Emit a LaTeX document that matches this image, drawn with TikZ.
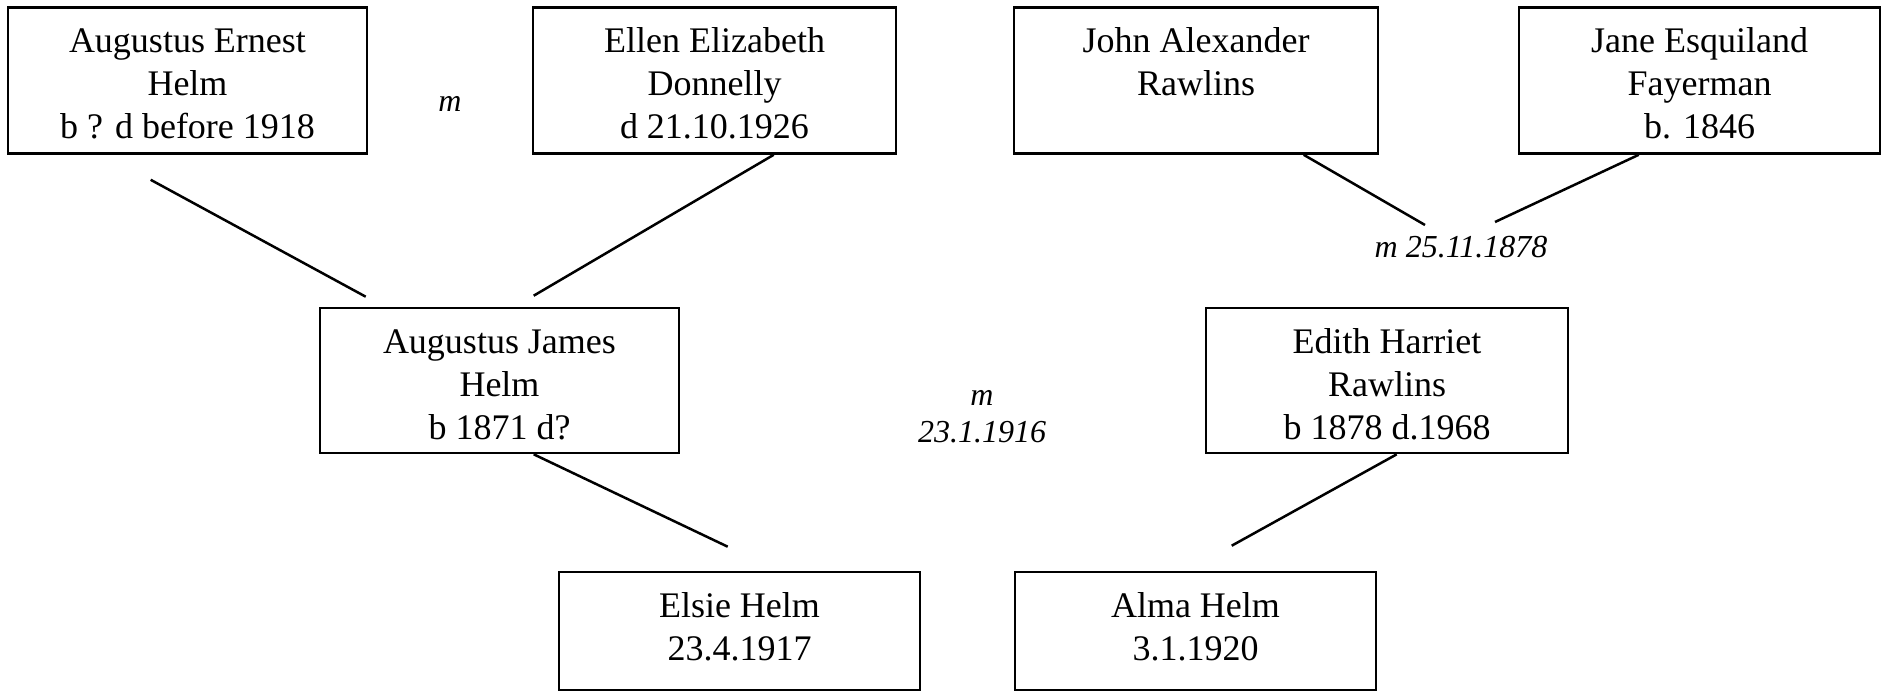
\documentclass[tikz,border=0pt]{standalone}
\usepackage{fontspec}
\setmainfont{Liberation Serif}
\usetikzlibrary{calc}
\newcommand\personbox[3]{\parbox[c][#2][t]{#1}{\centering\fontsize{36}{43}\selectfont\vspace*{15pt}\strut #3\par}}
\begin{document}
\begin{tikzpicture}[x=1pt,y=-1pt,
  person/.style={draw, line width=2.6pt, inner sep=0pt},
  conn/.style={line width=2.5pt},
  lbl/.style={font=\fontsize{32}{37}\selectfont\itshape, inner sep=0pt, align=center}]
\useasboundingbox[fill=white] (0,0) rectangle (1881,692);
% top row
\node[person] (b1) at (187.5,80.5) {\personbox{359pt}{146pt}{Augustus Ernest\\Helm\\b ? d before 1918}};
\node[person] (ellen) at (714.5,80.5) {\personbox{363pt}{146pt}{Ellen Elizabeth\\Donnelly\\d 21.10.1926}};
\node[person] (john) at (1196,80.5) {\personbox{364pt}{146pt}{John Alexander\\Rawlins}};
\node[person] (jane) at (1699.5,80.5) {\personbox{361pt}{146pt}{Jane Esquiland\\Fayerman\\b. 1846}};
% middle row
\node[person] (aj) at (499.5,380.5) {\personbox{359pt}{145pt}{Augustus James\\Helm\\b 1871 d?}};
\node[person] (edith) at (1387,380.5) {\personbox{362pt}{145pt}{Edith Harriet\\Rawlins\\b 1878 d.1968}};
% bottom row
\node[person] (elsie) at (739.5,631) {\personbox{361pt}{118pt}{Elsie Helm\\23.4.1917}};
\node[person] (alma) at (1195.5,631) {\personbox{361pt}{118pt}{Alma Helm\\3.1.1920}};
% marriage labels
\node[lbl, anchor=base] (m1) at (450,112) {m};
\node[lbl] (m2) at (982,416.5) {m\\23.1.1916};
\node[lbl, anchor=base] (m3) at (1461,258) {m 25.11.1878};
\coordinate (mj) at (1425,225);
\coordinate (mf) at (1495,222);
% connectors
\draw[conn] ($(b1.south west)+(144,25)$) -- ($(aj.north west)+(47,-10)$);
\draw[conn] ($(ellen.south west)+(242,0)$) -- ($(aj.north west)+(215,-11)$);
\draw[conn] ($(john.south west)+(291,0)$) -- (mj);
\draw[conn] ($(jane.south west)+(121,0)$) -- (mf);
\draw[conn] ($(aj.south west)+(215,0)$) -- ($(elsie.north west)+(170,-24)$);
\draw[conn] ($(edith.south west)+(192,0)$) -- ($(alma.north west)+(218,-25)$);
\end{tikzpicture}
\end{document}
